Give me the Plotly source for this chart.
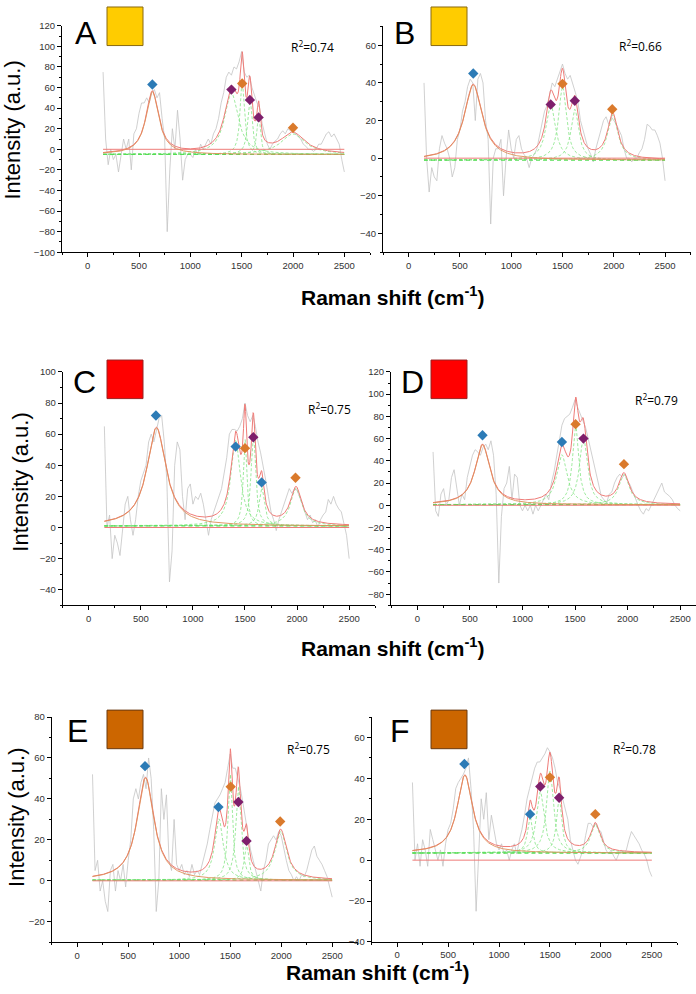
import numpy as np
import plotly.graph_objects as go

W, H = 696, 994

# ---------------- data ----------------
shift = list(range(150, 2501, 25))  # Raman shift grid of the measured (grey) spectra

gray_A = [75, 10, -15, 0, -10, -5, -22, -5, 10, 0,
          10, -20, 15, 20, 35, 45, 45, 50, 45, 55,
          58, 50, 55, 30, 10, -80, -20, 20, 0, 38,
          10, -30, -10, -5, -5, -8, 0, -5, 5, 0,
          5, 10, 5, 15, 20, 30, 45, 55, 70, 75,
          72, 80, 78, 85, 95, 75, 70, 72, 60, 52,
          45, 40, 25, 15, 5, 0, 5, 8, 10, 15,
          18, 15, 20, 18, 17, 15, 12, 10, 5, 3,
          0, 0, -2, 0, 5, 5, 10, 15, 17, 12,
          15, 10, 5, -10, -22]
gray_B = [40, 0, -18, -5, -10, -12, 5, 12, 8, 5,
          0, -10, -5, 10, 15, 25, 30, 38, 42, 40,
          20, 42, 45, 40, 20, 10, -35, 0, 5, 5,
          10, -20, 0, 15, 5, 0, 10, 12, 5, 2,
          0, -5, 0, 2, 5, 12, 20, 25, 28, 35,
          40, 38, 42, 45, 50, 45, 42, 44, 40, 35,
          30, 20, 15, 10, 5, 2, -2, 5, 10, 15,
          20, 22, 18, 22, 20, 18, 15, 12, 5, 0,
          0, -2, 0, 0, 3, 5, 10, 18, 17, 15,
          15, 12, 8, 0, -12]
gray_C = [65, 0, 8, -20, -5, -10, -18, 0, 15, 20,
          5, -5, 5, 20, 30, 35, 40, 55, 60, 55,
          62, 70, 72, 55, 30, -35, -15, 40, 55, 50,
          20, 5, 25, 28, 15, 20, 18, 22, 15, 5,
          -5, 5, 10, 15, 20, 25, 35, 45, 60, 63,
          63, 62, 65, 70, 80, 72, 68, 72, 65, 55,
          48, 40, 30, 20, 10, 5, -2, 5, 10, 15,
          20, 25, 22, 25, 24, 20, 15, 10, 5, 8,
          3, 5, 0, 5, 8, 10, 18, 15, 20, 15,
          12, 10, 3, -5, -20]
gray_D = [48, -5, -10, 10, 15, 0, 5, 25, 32, 15,
          0, 10, 5, 25, 35, 45, 50, 48, 45, 52,
          55, 50, 58, 45, 10, -70, -10, 15, 20, 35,
          5, 28, 25, 0, -5, 0, -5, 0, -8, 0,
          -5, 0, 5, 10, 5, 20, 30, 45, 60, 72,
          78, 80, 82, 88, 95, 88, 82, 75, 70, 60,
          50, 40, 28, 18, 8, 5, 2, 10, 12, 20,
          25, 28, 25, 28, 22, 18, 12, 5, 0, -5,
          -8, -3, -5, 0, 5, 10, 15, 20, 12, 10,
          8, 5, 0, -3, -5]
gray_E = [52, 5, 10, -5, 0, -10, -15, 5, 8, -5,
          5, 0, 8, -3, 10, 20, 40, 45, 40, 48,
          52, 45, 60, 50, 25, -15, 0, 45, 30, 42,
          10, 5, 30, 8, 5, 8, 3, 5, 2, 8,
          3, 5, 3, 8, 12, 18, 25, 32, 38, 40,
          42, 45, 48, 55, 62, 55, 55, 50, 45, 38,
          30, 22, 15, 10, 5, 0, -5, 5, 10, 18,
          20, 22, 20, 24, 22, 15, 10, 5, 3, 0,
          2, 0, 3, 2, 5, 10, 15, 17, 12, 10,
          8, 5, 2, -3, -8]
gray_F = [38, 0, 8, -3, 10, 5, -3, 15, 10, 5,
          0, 5, -3, 8, 15, 18, 25, 35, 38, 40,
          42, 45, 50, 35, 15, -25, 0, 30, 20, 33,
          10, 22, 15, 8, 5, 8, 3, 5, 0, 5,
          8, 3, 10, 15, 22, 30, 35, 40, 45, 48,
          48, 50, 52, 55, 53, 50, 45, 38, 35, 30,
          25, 20, 10, 5, 0, -2, 2, 5, 12, 18,
          18, 16, 18, 15, 14, 10, 5, 3, 5, 2,
          0, 3, 5, 3, 5, 10, 14, 12, 10, 8,
          5, 3, 0, -5, -8]

# fitted Lorentzian components: (centre cm-1, height, FWHM)
peaks_A = [(630, 61, 150), (1400, 60, 160), (1505, 70, 50), (1580, 55, 50), (1665, 38, 40), (2000, 20, 280)]
peaks_B = [(630, 40, 210), (1385, 30, 110), (1500, 39, 90), (1620, 27, 90), (1990, 24, 120)]
peaks_C = [(650, 63, 220), (1410, 55, 110), (1500, 56, 40), (1580, 60, 50), (1660, 25, 60), (1990, 24, 130)]
peaks_D = [(620, 54, 170), (1375, 45, 120), (1505, 72, 70), (1580, 60, 90), (1965, 27, 120)]
peaks_E = [(670, 50, 200), (1390, 30, 100), (1500, 52, 50), (1580, 46, 60), (1660, 18, 50), (1995, 24, 140)]
peaks_F = [(665, 38, 180), (1305, 18, 60), (1405, 30, 90), (1500, 40, 80), (1590, 28, 60), (1945, 14, 110)]

baseline_A, baseline_B, baseline_C = -5, -1, 1
baseline_D, baseline_E, baseline_F = 0.5, 0.3, 3.5

# peak-assignment diamonds: (shift, intensity, class)
marks_A = [(630, 63, "b"), (1400, 58, "p"), (1505, 64, "o"), (1580, 48, "p"), (1665, 31, "p"), (2000, 21, "o")]
marks_B = [(630, 45, "b"), (1385, 28.5, "p"), (1500, 39.5, "o"), (1620, 30.5, "p"), (1985, 26, "o")]
marks_C = [(645, 72, "b"), (1410, 52, "b"), (1500, 51, "o"), (1580, 58, "p"), (1660, 29, "b"), (1985, 32, "o")]
marks_D = [(620, 63, "b"), (1375, 57, "b"), (1505, 73, "o"), (1580, 60, "p"), (1965, 37, "o")]
marks_E = [(665, 56, "b"), (1385, 36, "b"), (1505, 46, "o"), (1580, 38.5, "p"), (1660, 19.5, "p"), (1990, 29, "o")]
marks_F = [(660, 47, "b"), (1305, 22.5, "b"), (1405, 36, "p"), (1500, 40.5, "o"), (1590, 30.5, "p"), (1945, 22.5, "o")]

r2_labels = ["0.74", "0.66", "0.75", "0.79", "0.75", "0.78"]
panel_letters = ["A", "B", "C", "D", "E", "F"]
y_ranges = [(-100, 120), (-50, 70), (-50, 100), (-90, 120), (-30, 80), (-40, 70)]
x_ranges = [(-250, 2750), (-250, 2750), (-250, 2750), (-250, 2650), (-250, 2750), (-250, 2750)]
y_ticks = [list(range(-100, 121, 20)), list(range(-40, 61, 20)), list(range(-40, 101, 20)),
           list(range(-80, 121, 20)), list(range(-20, 81, 20)), list(range(-40, 61, 20))]
x_ticks = [0, 500, 1000, 1500, 2000, 2500]

# ---------------- styling / layout (pixel boxes) ----------------
boxes = [  # x0, x1, ytop, ybottom in pixels
    (62, 370, 20, 249), (383, 690.7, 20.7, 249),
    (62.7, 375.2, 370, 606), (391, 696, 370, 606),
    (51.7, 357.7, 719, 946.7), (371.7, 677.3, 719, 946.4),
]
sq_colors = ["#FFCC00", "#FFCC00", "#FF0000", "#FF0000", "#CC6600", "#CC6600"]
sq_lines = ["#8A6A10", "#8A6A10", "#9A2020", "#9A2020", "#6A3A10", "#6A3A10"]
squares = [(107, 143, 1, 40), (431, 467, 1, 40), (107, 143, 358, 397),
           (431, 467, 358, 397), (107, 143, 712, 751), (431, 467, 712, 751)]
letter_pos = [(86, 27), (404, 27), (84, 380), (412, 380), (77, 733), (400, 733)]
r2_pos = [(312, 41), (640, 40), (329, 408), (656, 398), (308, 751), (634, 751)]
mark_colors = {"b": "#2C7BB6", "o": "#DA7A2C", "p": "#7E1F6C"}

gray_all = [gray_A, gray_B, gray_C, gray_D, gray_E, gray_F]
peaks_all = [peaks_A, peaks_B, peaks_C, peaks_D, peaks_E, peaks_F]
base_all = [baseline_A, baseline_B, baseline_C, baseline_D, baseline_E, baseline_F]
marks_all = [marks_A, marks_B, marks_C, marks_D, marks_E, marks_F]

for g in gray_all:
    assert len(g) == len(shift), len(g)


def px(x):
    return x / W


def py(y):
    return 1 - y / H


def lorentz(x, c, h, w):
    return h / (1 + ((x - c) / (w / 2.0)) ** 2)


fit_x = np.arange(150, 2501, 4)
fig = go.Figure()
layout = {}
FONT = "Liberation Sans, Arial, sans-serif"
RED = "#EE7C78"

for i in range(6):
    sfx = "" if i == 0 else str(i + 1)
    xa, ya = "x" + sfx, "y" + sfx
    b = base_all[i]
    # grey measured spectrum
    fig.add_trace(go.Scatter(x=shift, y=gray_all[i], mode="lines", xaxis=xa, yaxis=ya,
                             line=dict(color="#C4C4C4", width=0.8), showlegend=False, hoverinfo="skip"))
    comps = [b + lorentz(fit_x, c, h, w) for (c, h, w) in peaks_all[i]]
    for k, cy in enumerate(comps[1:]):
        fig.add_trace(go.Scatter(x=fit_x, y=cy, mode="lines", xaxis=xa, yaxis=ya,
                                 line=dict(color="#86E486", width=0.8, dash="3px,2px"),
                                 showlegend=False, hoverinfo="skip"))
    # baseline of the fit
    fig.add_trace(go.Scatter(x=[150, 2500], y=[b, b], mode="lines", xaxis=xa, yaxis=ya,
                             line=dict(color="#55DD55", width=1.3, dash="4px,3px"),
                             showlegend=False, hoverinfo="skip"))
    # zero line
    fig.add_trace(go.Scatter(x=[150, 2500], y=[0, 0], mode="lines", xaxis=xa, yaxis=ya,
                             line=dict(color=RED, width=1), showlegend=False, hoverinfo="skip"))
    total = b + sum(lorentz(fit_x, c, h, w) for (c, h, w) in peaks_all[i])
    fig.add_trace(go.Scatter(x=fit_x, y=total, mode="lines", xaxis=xa, yaxis=ya,
                             line=dict(color=RED, width=1), showlegend=False, hoverinfo="skip"))
    fig.add_trace(go.Scatter(x=fit_x, y=comps[0], mode="lines", xaxis=xa, yaxis=ya,
                             line=dict(color="#E0905A", width=1), opacity=0.9,
                             showlegend=False, hoverinfo="skip"))
    mk = marks_all[i]
    fig.add_trace(go.Scatter(x=[m[0] for m in mk], y=[m[1] for m in mk], mode="markers",
                             xaxis=xa, yaxis=ya,
                             marker=dict(symbol="diamond", size=8,
                                         color=[mark_colors[m[2]] for m in mk],
                                         line=dict(width=0)),
                             showlegend=False, hoverinfo="skip"))

    x0, x1, yt, yb = boxes[i]
    common = dict(showline=True, linecolor="black", linewidth=1, ticks="outside", ticklen=4,
                  tickwidth=1, tickcolor="black", showgrid=False, zeroline=False,
                  tickfont=dict(family=FONT, size=9.5, color="#333333"))
    layout["xaxis" + sfx] = dict(domain=[px(x0), px(x1)], range=list(x_ranges[i]), anchor=ya,
                                 tickmode="array", tickvals=x_ticks,
                                 minor=dict(ticks="outside", ticklen=2, tickcolor="black",
                                            tickmode="linear", tick0=0, dtick=250, showgrid=False),
                                 **common)
    layout["yaxis" + sfx] = dict(domain=[py(yb), py(yt)], range=list(y_ranges[i]), anchor=xa,
                                 tickmode="array", tickvals=y_ticks[i],
                                 minor=dict(ticks="outside", ticklen=2, tickcolor="black",
                                            tickmode="linear", tick0=0, dtick=10, showgrid=False),
                                 **common)

shapes = []
for i in range(6):
    x0, x1, y0, y1 = squares[i]
    shapes.append(dict(type="rect", xref="paper", yref="paper", x0=px(x0), x1=px(x1),
                       y0=py(y1), y1=py(y0), fillcolor=sq_colors[i],
                       line=dict(color=sq_lines[i], width=1)))

ann = []
for i in range(6):
    lx, ly = letter_pos[i]
    ann.append(dict(text=panel_letters[i], x=px(lx), y=py(ly), xref="paper", yref="paper",
                    showarrow=False, xanchor="center", yanchor="middle",
                    font=dict(family=FONT, size=32, color="black")))
    rx, ry = r2_pos[i]
    ann.append(dict(text="R<sup>2</sup>=" + r2_labels[i], x=px(rx), y=py(ry), xref="paper",
                    yref="paper", showarrow=False, xanchor="center", yanchor="middle",
                    font=dict(family="Open Sans, sans-serif", size=12, color="black")))

for (cx, cy) in [(392, 293), (392, 648), (377, 976)]:
    ann.append(dict(text="<b>Raman shift (cm<sup>-1</sup>)</b>", x=px(cx), y=py(cy), xref="paper",
                    yref="paper", showarrow=False, xanchor="center", yanchor="middle",
                    font=dict(family=FONT, size=21, color="black")))
for (cx, cy) in [(13, 126), (21, 482), (17, 821)]:
    ann.append(dict(text="Intensity (a.u.)", x=px(cx), y=py(cy), xref="paper", yref="paper",
                    showarrow=False, xanchor="center", yanchor="middle", textangle=-90,
                    font=dict(family=FONT, size=22, color="black")))

fig.update_layout(width=W, height=H, margin=dict(l=0, r=0, t=0, b=0),
                  paper_bgcolor="white", plot_bgcolor="white",
                  shapes=shapes, annotations=ann, **layout)
fig.write_html("out.html", config={"displayModeBar": False},
               post_script="document.body.style.margin='0';document.body.style.overflow='hidden';")
